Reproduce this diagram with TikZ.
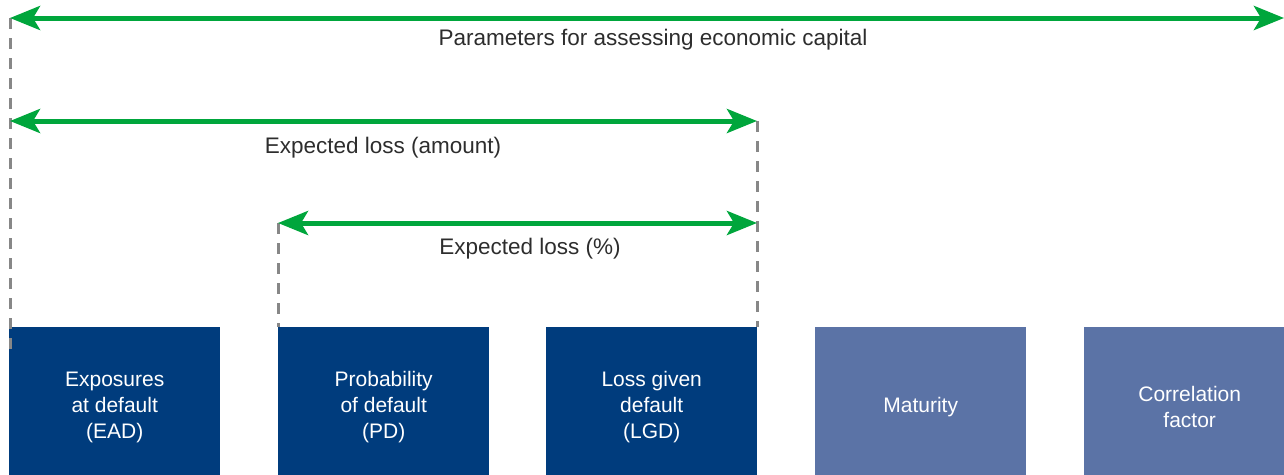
\documentclass[tikz,border=0pt]{standalone}
\usepackage{fontspec}
\setmainfont{Liberation Sans}
\usetikzlibrary{arrows.meta}
\definecolor{dblue}{RGB}{0,60,125}
\definecolor{lblue}{RGB}{91,115,166}
\definecolor{kgreen}{RGB}{0,166,60}
\definecolor{dgray}{RGB}{135,135,135}
\definecolor{tgray}{RGB}{45,45,45}
\tikzset{
  box/.style={minimum width=211pt, minimum height=160pt, inner sep=0pt, anchor=north west, text=white, align=center, font=\fontsize{21}{26}\selectfont},
  darkbox/.style={box, fill=dblue},
  lightbox/.style={box, fill=lblue},
  garrow/.style={draw=kgreen, line width=5pt, {Stealth[length=30pt,width=24pt,inset=7pt]}-{Stealth[length=30pt,width=24pt,inset=7pt]}},
  guide/.style={draw=dgray, line width=3pt, dash pattern=on 11pt off 9pt},
  lbl/.style={font=\fontsize{22.5}{26}\selectfont, text=tgray, inner sep=0pt}
}
\begin{document}
\begin{tikzpicture}[x=1pt,y=-1pt]
\useasboundingbox (0,0) rectangle (1284,474);
\begin{scope}
\clip (0,0) rectangle (1284,474);
\node[darkbox] (ead) at (9,327) {Exposures\\at default\\(EAD)};
\node[darkbox] (pd) at (278,327) {Probability\\of default\\(PD)};
\node[darkbox] (lgd) at (546,327) {Loss given\\default\\(LGD)};
\node[lightbox] (mat) at (815,327) {Maturity};
\node[lightbox] (cor) at (1084,327) {Correlation\\factor};
\end{scope}
\coordinate (a1l) at (10,18);
\coordinate (a1r) at (1284,18);
\coordinate (a2l) at (10,121);
\coordinate (a2r) at (757,121);
\coordinate (a3l) at (278,223);
\coordinate (a3r) at (757,223);
\coordinate (d1b) at (10,352);
\coordinate (d2b) at (278,327);
\coordinate (d3b) at (757,327);
\draw[guide] (a1l) -- (d1b);
\draw[guide] (a3l) -- (d2b);
\draw[guide] (a2r) -- (d3b);
\draw[garrow] (a1l) -- (a1r);
\draw[garrow] (a2l) -- (a2r);
\draw[garrow] (a3l) -- (a3r);
\node[lbl] (t1) at (653,40) {Parameters for assessing economic capital};
\node[lbl] (t2) at (383,148) {Expected loss (amount)};
\node[lbl] (t3) at (530,249) {Expected loss (\%)};
\end{tikzpicture}
\end{document}
